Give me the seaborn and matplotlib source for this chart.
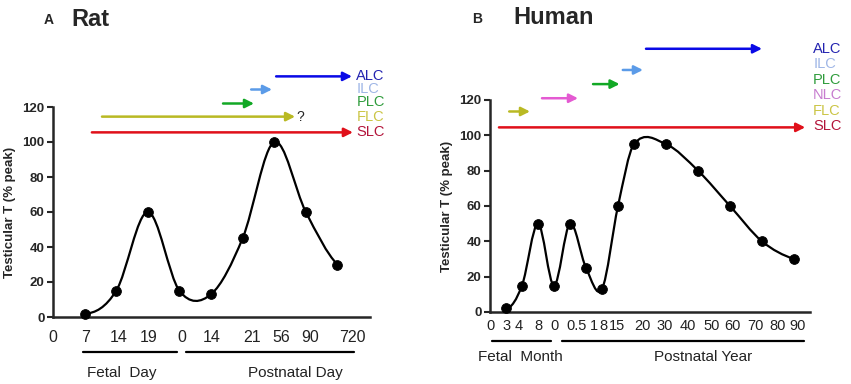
import numpy as np
import matplotlib
matplotlib.use("Agg")
import matplotlib.pyplot as plt
from matplotlib.path import Path
from matplotlib.patches import PathPatch
import seaborn as sns

# ---- data ----
# Rat: points sit on evenly spaced slots
rat_x = [1, 2, 3, 4, 5, 6, 7, 8, 9]
rat_t = [2, 15, 60, 15, 13, 45, 100, 60, 30]
rat_tick_labels = ["0", "7", "14", "19", "0", "14", "21", "56", "90", "720"]

# Human
human_x = [1, 2, 3, 4, 5, 6, 7, 8, 9, 11, 13, 15, 17, 19]
human_t = [2, 15, 50, 15, 50, 25, 13, 60, 95, 95, 80, 60, 40, 30]
human_tick_labels = ["0", "3", "4", "8", "0", "0.5", "1", "8", "15", "20",
                     "30", "40", "50", "60", "70", "80", "90"]

# Leydig cell populations (label, start, end, level)
rat_cells = ["ALC", "ILC", "PLC", "FLC", "SLC"]
rat_start = [7.06, 6.27, 5.38, 1.55, 1.23]
rat_end = [9.46, 6.93, 6.36, 7.66, 9.49]
rat_level = [137.5, 130, 122, 114.5, 105.5]

human_cells = ["ALC", "ILC", "PLC", "NLC", "FLC", "SLC"]
human_start = [9.75, 8.3, 6.44, 3.25, 1.2, 0.56]
human_end = [17.0, 9.56, 8.1, 5.5, 2.5, 19.7]
human_level = [149, 137, 129, 121, 113.5, 104.5]

arrow_colors = {"ALC": "#0a0ae6", "ILC": "#5b9be8", "PLC": "#12a825",
                "NLC": "#e45ad2", "FLC": "#b9b923", "SLC": "#e0101a"}
text_colors = {"ALC": "#2424b0", "ILC": "#9fb6e6", "PLC": "#2f9c3c",
               "NLC": "#c77ccf", "FLC": "#cbc545", "SLC": "#b3143a"}

sns.set_style("ticks")
plt.rcParams["font.family"] = ["Liberation Sans", "DejaVu Sans"]


def smooth_curve(ax, x, y):
    # cubic bezier through every point (Catmull-Rom style tangents)
    x = np.asarray(x, float)
    y = np.asarray(y, float)
    n = len(x)
    m = np.zeros(n)
    for i in range(1, n - 1):
        m[i] = (y[i + 1] - y[i - 1]) / (x[i + 1] - x[i - 1])
    m[-1] = (y[-1] - y[-2]) / (x[-1] - x[-2]) * 0.6
    verts = [(x[0], y[0])]
    codes = [Path.MOVETO]
    for i in range(n - 1):
        dx = x[i + 1] - x[i]
        verts += [(x[i] + dx / 3, y[i] + m[i] * dx / 3),
                  (x[i + 1] - dx / 3, y[i + 1] - m[i + 1] * dx / 3),
                  (x[i + 1], y[i + 1])]
        codes += [Path.CURVE4] * 3
    ax.add_patch(PathPatch(Path(verts, codes), fill=False, lw=1.6,
                           color="black", clip_on=False, zorder=3))


def panel(ax, x, t, xlim, tick_pos, tick_labels, tick_size, pad):
    smooth_curve(ax, x, t)
    sns.scatterplot(x=x, y=t, ax=ax, color="black", s=50, edgecolor="black",
                    zorder=4, clip_on=False, legend=False)
    ax.set_xlim(*xlim)
    ax.set_ylim(0, 120)
    ax.set_yticks(range(0, 121, 20))
    ax.set_xticks(tick_pos)
    ax.set_xticklabels(tick_labels, fontsize=tick_size, color="#222222")
    ax.tick_params(axis="x", length=0, pad=pad)
    ax.tick_params(axis="y", length=4, width=1.5, labelsize=9.5, pad=2)
    for lab in ax.get_yticklabels():
        lab.set_fontweight("bold")
    ax.set_ylabel("Testicular T (% peak)", fontsize=9.5, fontweight="bold",
                  labelpad=5)
    sns.despine(ax=ax)
    ax.spines["left"].set_linewidth(1.8)
    ax.spines["bottom"].set_linewidth(1.8)
    ax.patch.set_alpha(0)


def arrows(ax, cells, start, end, level, label_x, label_y):
    for c, s, e, lv in zip(cells, start, end, level):
        ax.annotate("", xy=(e, lv), xytext=(s, lv),
                    arrowprops=dict(arrowstyle="-|>", color=arrow_colors[c],
                                    lw=1.8, mutation_scale=13,
                                    shrinkA=0, shrinkB=0),
                    annotation_clip=False)
    for c, ly in zip(cells, label_y):
        ax.text(label_x, ly, c, color=text_colors[c], fontsize=10.5,
                ha="left", va="center", clip_on=False)


fig = plt.figure(figsize=(8.51, 3.84), dpi=100)
axA = fig.add_axes([53 / 851, 1 - 317 / 384, 317 / 851, 210 / 384])
axB = fig.add_axes([490 / 851, 1 - 312 / 384, 320 / 851, 212 / 384])

# ---- panel A: rat ----
panel(axA, rat_x, rat_t, (0, 10.03),
      [0, 1.04, 2.09, 3.04, 4.08, 5.03, 6.3, 7.22, 8.13, 9.46],
      rat_tick_labels, 11.5, 9)
arrows(axA, rat_cells, rat_start, rat_end, rat_level, 9.6,
       [137.5, 130.3, 123, 114.5, 105.5])
axA.text(7.7, 114.5, "?", fontsize=10, ha="left", va="center")
tr = axA.get_xaxis_transform()
axA.plot([0.95, 3.92], [-0.167, -0.167], color="black", lw=1.6,
         transform=tr, clip_on=False)
axA.plot([4.21, 9.53], [-0.167, -0.167], color="black", lw=1.6,
         transform=tr, clip_on=False)
axA.text(2.18, -0.267, "Fetal  Day", transform=tr, ha="center", va="center",
         fontsize=11, color="#222222")
axA.text(7.66, -0.267, "Postnatal Day", transform=tr, ha="center",
         va="center", fontsize=11, color="#222222")
fig.text(44 / 851, 1 - 20 / 384, "A", fontsize=10, fontweight="bold",
         va="center")
fig.text(71 / 851, 1 - 20 / 384, "Rat", fontsize=17, fontweight="bold",
         va="center")

# ---- panel B: human ----
panel(axB, human_x, human_t, (0, 20),
      [0.06, 1.06, 1.81, 3.0, 4.06, 5.44, 6.5, 7.06, 7.94, 9.5, 10.94,
       12.375, 13.875, 15.125, 16.56, 18.0, 19.2],
      human_tick_labels, 10.5, 5)
arrows(axB, human_cells, human_start, human_end, human_level, 20.2,
       [149, 140.5, 131.5, 123, 114, 105])
tr = axB.get_xaxis_transform()
axB.plot([0.12, 3.8], [-0.137, -0.137], color="black", lw=1.6,
         transform=tr, clip_on=False)
axB.plot([4.5, 19.6], [-0.137, -0.137], color="black", lw=1.6,
         transform=tr, clip_on=False)
axB.text(1.875, -0.212, "Fetal  Month", transform=tr, ha="center",
         va="center", fontsize=11, color="#222222")
axB.text(13.3, -0.212, "Postnatal Year", transform=tr, ha="center",
         va="center", fontsize=11, color="#222222")
fig.text(472 / 851, 1 - 19 / 384, "B", fontsize=10, fontweight="bold",
         va="center")
fig.text(513 / 851, 1 - 17 / 384, "Human", fontsize=17, fontweight="bold",
         va="center")

fig.savefig("out.png", dpi=100)
